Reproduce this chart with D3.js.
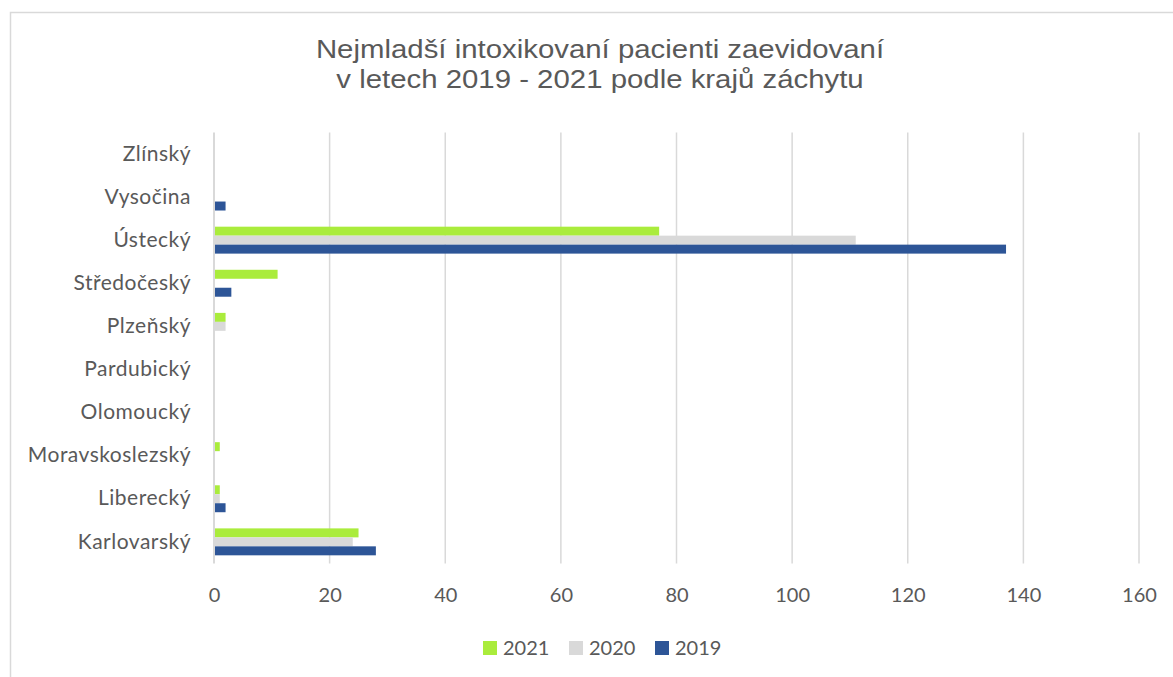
<!DOCTYPE html>
<html><head><meta charset="utf-8">
<script src="https://cdn.jsdelivr.net/npm/d3@7"></script>
<style>body{margin:0;background:#fff}svg{display:block}</style>
</head><body>
<svg id="c" width="1173" height="677"></svg>
<script>
const categories = ["Zlínský","Vysočina","Ústecký","Středočeský","Plzeňský","Pardubický","Olomoucký","Moravskoslezský","Liberecký","Karlovarský"];
const seriesNames = ["2021","2020","2019"];
const values2021 = [0,0,77,11,2,0,0,1,1,25];
const values2020 = [0,0,111,0,2,0,0,0,1,24];
const values2019 = [0,2,137,3,0,0,0,0,2,28];
const xTicks = [0,20,40,60,80,100,120,140,160];
const colors = ["#aaec3c","#d9d9d9","#2d5597"];
const titleLines = ["Nejmladší intoxikovaní pacienti zaevidovaní","v letech 2019 - 2021 podle krajů záchytu"];

const svg = d3.select("#c");
const W = 1173, H = 677;
svg.append("rect").attr("x",10.5).attr("y",12.5).attr("width",W+20).attr("height",H+20)
  .attr("fill","#fff").attr("stroke","#d9d9d9").attr("stroke-width",1.5);

const m = {left:214, right:1139, top:132.4, bottom:563.4};
const x = d3.scaleLinear().domain([0,160]).range([m.left,m.right]);
const y = d3.scaleBand().domain(categories).range([m.top,m.bottom]).paddingInner(0.375).paddingOuter(0.1875);
const ySub = d3.scaleBand().domain(seriesNames).range([0,y.bandwidth()]);

const labelFont = "Lato, 'Open Sans', sans-serif";
// grid
svg.append("g").selectAll("line").data(xTicks.slice(1)).join("line")
  .attr("x1",d=>x(d)).attr("x2",d=>x(d)).attr("y1",m.top).attr("y2",m.bottom)
  .attr("stroke","#d9d9d9").attr("stroke-width",1.5);

const all = [values2021, values2020, values2019];
const data = [];
categories.forEach((c,i)=>seriesNames.forEach((s,j)=>data.push({c,s,v:all[j][i],col:colors[j]})));
svg.append("g").selectAll("rect").data(data.filter(d=>d.v>0)).join("rect")
  .attr("x",x(0)+1).attr("y",d=>y(d.c)+ySub(d.s)).attr("width",d=>x(d.v)-x(0)-1)
  .attr("height",ySub.bandwidth()).attr("fill",d=>d.col);

// axis line
svg.append("line").attr("x1",x(0)).attr("x2",x(0)).attr("y1",m.top).attr("y2",m.bottom)
  .attr("stroke","#d9d9d9").attr("stroke-width",2);

// x axis labels via d3 axis
const xa = svg.append("g").attr("transform",`translate(0,${m.bottom})`)
  .call(d3.axisBottom(x).tickValues(xTicks).tickSize(0).tickPadding(24));
xa.select(".domain").remove();
xa.selectAll("text").attr("fill","#595959").style("font-family",labelFont).style("font-size","20px");

const ya = svg.append("g").attr("transform",`translate(${m.left},0)`)
  .call(d3.axisLeft(y).tickSize(0).tickPadding(23));
ya.select(".domain").remove();
ya.selectAll("text").attr("fill","#595959").style("font-family",labelFont).style("font-size","21px")
  .style("letter-spacing","0.5px");

// title
svg.append("g").attr("transform","translate(600,0) scale(1.13,1)")
  .selectAll("text").data(titleLines).join("text")
  .attr("x",0).attr("y",(d,i)=>58.5+i*30).attr("text-anchor","middle")
  .attr("fill","#595959").style("font-family","'Liberation Sans', Arial, sans-serif").style("font-size","26px")
  .text(d=>d);

// legend
const lg = svg.append("g").selectAll("g").data(seriesNames).join("g")
  .attr("transform",(d,i)=>`translate(${483+i*86},641)`);
lg.append("rect").attr("width",14).attr("height",14).attr("fill",(d,i)=>colors[i]);
lg.append("text").attr("x",20).attr("y",14).attr("fill","#595959")
  .style("font-family",labelFont).style("font-size","20px").text(d=>d);
</script>
</body></html>
